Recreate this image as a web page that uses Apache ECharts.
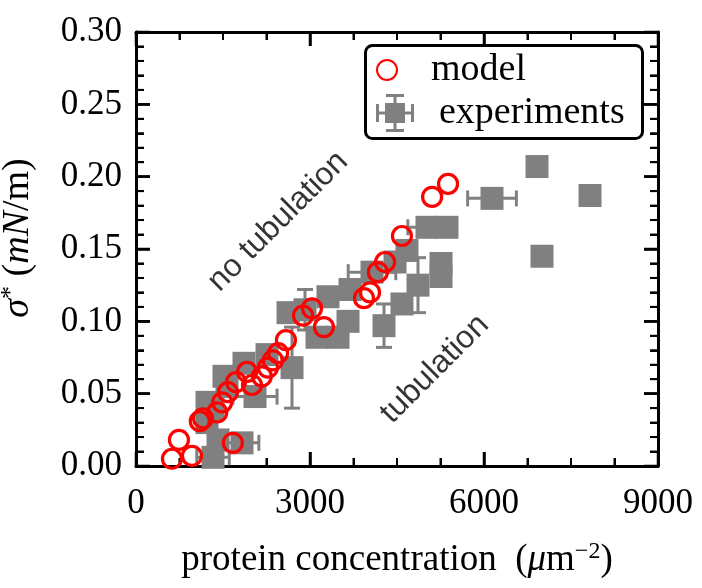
<!DOCTYPE html>
<html>
<head>
<meta charset="utf-8">
<script src="https://cdn.jsdelivr.net/npm/echarts@6/dist/echarts.min.js"></script>
<style>
html,body{margin:0;padding:0;background:#fff;}
#chart{width:702px;height:588px;}
</style>
</head>
<body>
<div id="chart"></div>
<script>
// ---- data ----
var modelX = [620, 740, 965, 1100, 1155, 1670, 1400, 1485, 1585, 1725, 1915, 2000, 2170, 2275, 2360, 2450, 2585, 2880, 3035, 3240, 3930, 4035, 4170, 4295, 4585, 5105, 5380];
var modelY = [0.005, 0.018, 0.007, 0.031, 0.033, 0.016, 0.037, 0.044, 0.051, 0.058, 0.065, 0.056, 0.062, 0.068, 0.073, 0.078, 0.087, 0.104, 0.109, 0.096, 0.116, 0.120, 0.134, 0.141, 0.159, 0.186, 0.195];

var expX = [1328, 1414, 1828, 1224, 1328, 1224, 1569, 1517, 1862, 2052, 2259, 2690, 2621, 2914, 3121, 3483, 3310, 3690, 3655, 4069, 4276, 4466, 4586, 4672, 4862, 5017, 5362, 5259, 5259, 6138, 6914, 7828, 7000];
var expY = [0.006, 0.018, 0.016, 0.030, 0.039, 0.044, 0.055, 0.062, 0.071, 0.048, 0.077, 0.068, 0.106, 0.108, 0.089, 0.089, 0.117, 0.122, 0.100, 0.134, 0.097, 0.141, 0.112, 0.149, 0.125, 0.165, 0.165, 0.140, 0.131, 0.185, 0.207, 0.187, 0.145];
var expXerr = [280, 0, 290, 0, 0, 0, 0, 0, 0, 380, 0, 0, 0, 0, 0, 0, 0, 0, 0, 410, 0, 0, 0, 0, 0, 330, 0, 0, 0, 420, 0, 0, 0];
var expYerr = [0, 0, 0, 0, 0, 0, 0, 0, 0, 0, 0, 0.028, 0, 0.014, 0, 0, 0, 0, 0, 0, 0.015, 0, 0, 0, 0.019, 0, 0, 0, 0, 0, 0, 0, 0];

var xTicks = [0, 3000, 6000, 9000];
var xMinorTicks = [750, 1500, 2250, 3750, 4500, 5250, 6750, 7500, 8250];
var yTicks = [0, 0.05, 0.10, 0.15, 0.20, 0.25, 0.30];
var yMinorTicks = [0.01, 0.02, 0.03, 0.04, 0.06, 0.07, 0.08, 0.09, 0.11, 0.12, 0.13, 0.14, 0.16, 0.17, 0.18, 0.19, 0.21, 0.22, 0.23, 0.24, 0.26, 0.27, 0.28, 0.29];

var annotationText = ['no tubulation', 'tubulation'];
var annotationX = [2450, 5150];
var annotationY = [0.169, 0.067];

// ---- build ----
var SERIF = '"Liberation Serif", "DejaVu Serif", serif';
var SANS = '"Liberation Sans", Arial, sans-serif';
var GRAY = '#808080';
var X0 = xTicks[0], X1 = xTicks[xTicks.length - 1];
var Y0 = yTicks[0], Y1 = yTicks[yTicks.length - 1];

var modelData = modelX.map(function (x, i) { return [x, modelY[i]]; });
var expData = expX.map(function (x, i) { return [x, expY[i]]; });
var errData = expX.map(function (x, i) { return [x, expY[i], expXerr[i], expYerr[i]]; });
var annData = annotationText.map(function (t, i) { return {name: t, value: [annotationX[i], annotationY[i]]}; });

// frame tick marks: [x, y, kind (0 = x tick, 1 = y tick), major (1) / minor (0)]
var tickData = [];
xTicks.forEach(function (v) { tickData.push([v, Y0, 0, 1]); });
xMinorTicks.forEach(function (v) { tickData.push([v, Y0, 0, 0]); });
yTicks.forEach(function (v) { tickData.push([X0, v, 1, 1]); });
yMinorTicks.forEach(function (v) { tickData.push([X0, v, 1, 0]); });

var chart = echarts.init(document.getElementById('chart'), null, {renderer: 'canvas'});

function frameLine() { return {show: true, onZero: false, lineStyle: {color: '#000', width: 3}}; }
function tickStyle() { return {show: true, inside: true, length: 14, lineStyle: {color: '#000', width: 2.5}}; }
function minor(n) { return {show: true, splitNumber: n, length: 8, lineStyle: {color: '#000', width: 2}}; }

function renderTicks(params, api) {
  var x = api.value(0), y = api.value(1), kind = api.value(2), major = api.value(3);
  var len = major ? 14 : 8;
  var style = {stroke: '#000', lineWidth: major ? 2.5 : 2};
  var children = [];
  if (kind === 0) {
    var b = api.coord([x, Y0]), t = api.coord([x, Y1]);
    children.push({type: 'line', shape: {x1: b[0], y1: b[1], x2: b[0], y2: b[1] - len}, style: style});
    children.push({type: 'line', shape: {x1: t[0], y1: t[1], x2: t[0], y2: t[1] + len}, style: style});
  } else {
    var l = api.coord([X0, y]), r = api.coord([X1, y]);
    children.push({type: 'line', shape: {x1: l[0], y1: l[1], x2: l[0] + len, y2: l[1]}, style: style});
    children.push({type: 'line', shape: {x1: r[0], y1: r[1], x2: r[0] - len, y2: r[1]}, style: style});
  }
  return {type: 'group', children: children};
}

function renderErr(params, api) {
  var x = api.value(0), y = api.value(1), xe = api.value(2), ye = api.value(3);
  var cap = 8;
  var style = {stroke: GRAY, lineWidth: 3};
  var children = [];
  if (xe > 0) {
    var l = api.coord([x - xe, y]), r = api.coord([x + xe, y]);
    children.push({type: 'line', shape: {x1: l[0], y1: l[1], x2: r[0], y2: r[1]}, style: style});
    children.push({type: 'line', shape: {x1: l[0], y1: l[1] - cap, x2: l[0], y2: l[1] + cap}, style: style});
    children.push({type: 'line', shape: {x1: r[0], y1: r[1] - cap, x2: r[0], y2: r[1] + cap}, style: style});
  }
  if (ye > 0) {
    var b = api.coord([x, y - ye]), t = api.coord([x, y + ye]);
    children.push({type: 'line', shape: {x1: b[0], y1: b[1], x2: t[0], y2: t[1]}, style: style});
    children.push({type: 'line', shape: {x1: b[0] - cap, y1: b[1], x2: b[0] + cap, y2: b[1]}, style: style});
    children.push({type: 'line', shape: {x1: t[0] - cap, y1: t[1], x2: t[0] + cap, y2: t[1]}, style: style});
  }
  return {type: 'group', children: children};
}

var expIcon = 'path://M9,9H29V29H9Z M0,17.5H38V20.5H0Z M17.5,0H20.5V38H17.5Z M0,10H3V28H0Z M35,10H38V28H35Z M10,0H28V3H10Z M10,35H28V38H10Z';

var option = {
  animation: false,
  grid: {left: 136, right: 44, top: 32, bottom: 122, outerBoundsMode: 'none'},
  xAxis: [
    {
      type: 'value', min: X0, max: X1, interval: 3000,
      position: 'bottom',
      name: '{t|protein concentration  (}{i|μ}{t|m}{s|−2}{t|)}',
      nameLocation: 'middle', nameGap: 74,
      nameTextStyle: {
        rich: {
          t: {fontFamily: SERIF, fontSize: 37, color: '#000'},
          i: {fontFamily: SERIF, fontSize: 37, fontStyle: 'italic', color: '#000'},
          s: {fontFamily: SERIF, fontSize: 24, color: '#000', verticalAlign: 'top', padding: [0, 0, 16, 0]}
        }
      },
      axisLine: frameLine(), axisTick: tickStyle(), minorTick: minor(4),
      axisLabel: {fontFamily: SERIF, fontSize: 35, color: '#000', margin: 20,
        formatter: function (v) { return String(v); }},
      splitLine: {show: false}
    },
    {
      type: 'value', min: X0, max: X1, interval: 3000,
      position: 'top',
      axisLine: frameLine(), axisTick: tickStyle(), minorTick: minor(4),
      axisLabel: {show: false}, splitLine: {show: false}
    }
  ],
  yAxis: [
    {
      type: 'value', min: Y0, max: Y1, interval: 0.05,
      position: 'left',
      name: '{g| }{i|σ}{s|*}{t| (}{i|mN}{t|/m)}',
      nameLocation: 'middle', nameGap: 98, nameRotate: 90,
      nameTextStyle: {
        rich: {
          g: {width: 22, fontSize: 10},
          t: {fontFamily: SERIF, fontSize: 38, color: '#000'},
          i: {fontFamily: SERIF, fontSize: 38, fontStyle: 'italic', color: '#000'},
          s: {fontFamily: SERIF, fontSize: 26, color: '#000', verticalAlign: 'top', padding: [0, 0, 14, 0]}
        }
      },
      axisLine: frameLine(), axisTick: tickStyle(), minorTick: minor(5),
      axisLabel: {fontFamily: SERIF, fontSize: 35, color: '#000', margin: 14,
        formatter: function (v) { return v.toFixed(2); }},
      splitLine: {show: false}
    },
    {
      type: 'value', min: Y0, max: Y1, interval: 0.05,
      position: 'right',
      axisLine: frameLine(), axisTick: tickStyle(), minorTick: minor(5),
      axisLabel: {show: false}, splitLine: {show: false}
    }
  ],
  legend: [
    {
      data: [{name: 'model', icon: 'circle'}],
      left: 371, top: 46, itemWidth: 38, itemHeight: 20,
      textStyle: {fontFamily: SERIF, fontSize: 38, color: '#000', padding: [0, 0, 0, 20]},
      selectedMode: false
    },
    {
      data: [{name: 'experiments', icon: expIcon}],
      left: 371, top: 89, itemWidth: 38, itemHeight: 38,
      textStyle: {fontFamily: SERIF, fontSize: 38, color: '#000', padding: [0, 0, 0, 20]},
      selectedMode: false
    }
  ],
  graphic: [
    {type: 'rect', left: 363, top: 43, z: 100, silent: true,
     shape: {width: 277, height: 93, r: 7},
     style: {fill: 'none', stroke: '#000', lineWidth: 3}}
  ],
  series: [
    {
      name: 'frame-ticks', type: 'custom', renderItem: renderTicks, data: tickData,
      encode: {x: 0, y: 1}, z: 2, silent: true
    },
    {
      name: 'experiments-err', type: 'custom', renderItem: renderErr, data: errData,
      encode: {x: 0, y: 1}, z: 2, silent: true
    },
    {
      name: 'experiments', type: 'scatter', data: expData, symbol: 'rect', symbolSize: 23,
      itemStyle: {color: GRAY, opacity: 1}, z: 3
    },
    {
      name: 'model', type: 'scatter', data: modelData, symbol: 'circle', symbolSize: 19,
      itemStyle: {color: 'transparent', borderColor: '#ff0000', borderWidth: 3.2, opacity: 1}, z: 4
    },
    {
      name: 'regions', type: 'scatter', data: annData, symbolSize: 0, silent: true, z: 5,
      label: {show: true, position: 'inside', rotate: 45, formatter: '{b}',
        fontFamily: SANS, fontSize: 32, color: '#000'}
    }
  ]
};

chart.setOption(option);
</script>
</body>
</html>
